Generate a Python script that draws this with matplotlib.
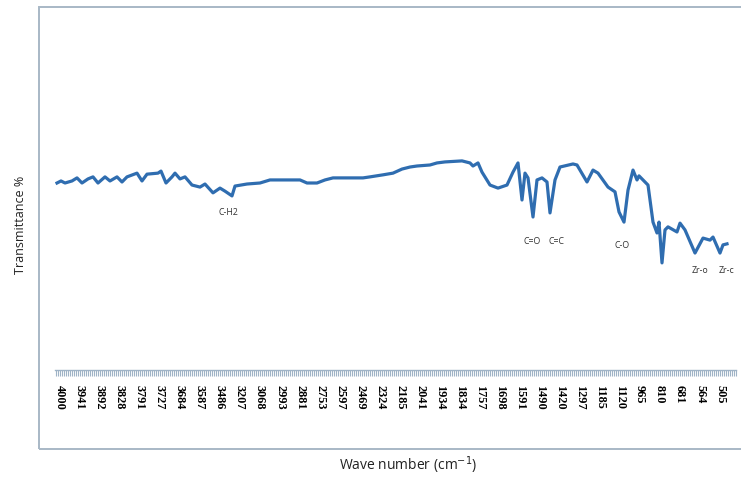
from __future__ import annotations

import matplotlib

matplotlib.use("Agg")

import matplotlib.pyplot as plt
from matplotlib.patches import Rectangle
from matplotlib.ticker import MultipleLocator


# wave number labels shown on the category axis, one per label slot
WAVE_LABELS = [
    "4000", "3941", "3892", "3828", "3791", "3727", "3684", "3587", "3486",
    "3207", "3068", "2993", "2881", "2753", "2597", "2469", "2324", "2185",
    "2041", "1934", "1834", "1757", "1698", "1591", "1490", "1420", "1297",
    "1185", "1120", "965", "810", "681", "564", "505",
]

# spectrum, x given in label slots along the category axis
SPEC_X = [
    -0.15, 0.05, 0.25, 0.6, 0.85, 1.1, 1.4, 1.65, 1.9, 2.25, 2.5, 2.85, 3.1,
    3.35, 3.85, 4.1, 4.35, 4.9, 5.05, 5.3, 5.6, 5.75, 6.0, 6.25, 6.6, 7.0,
    7.25, 7.65, 8.0, 8.25, 8.6, 8.75, 9.35, 10.0, 10.5, 12.0, 12.35, 12.85,
    13.25, 13.65, 15.15, 15.5, 16.15, 16.65, 17.1, 17.5, 17.85, 18.5, 18.85,
    19.25, 20.1, 20.5, 20.65, 20.9, 21.1, 21.5, 21.9, 22.35, 22.65, 22.9,
    23.1, 23.25, 23.4, 23.65, 23.85, 24.1, 24.35, 24.5, 24.75, 25.0, 25.65,
    25.85, 26.35, 26.65, 26.9, 27.4, 27.75, 27.95, 28.2, 28.4, 28.65, 28.85,
    28.95, 29.15, 29.4, 29.65, 29.85, 29.95, 30.1, 30.25, 30.4, 30.85, 31.0,
    31.25, 31.75, 32.15, 32.5, 32.65, 33.0, 33.15, 33.35,
]
TRANSMITTANCE = [
    55.0, 55.6, 55.0, 55.6, 56.5, 55.0, 56.2, 56.8, 55.0, 56.8, 55.6, 56.8,
    55.3, 56.8, 57.9, 55.6, 57.6, 57.9, 58.5, 55.0, 56.8, 57.9, 56.2, 56.8,
    54.4, 53.8, 54.7, 52.1, 53.5, 52.6, 51.2, 54.1, 54.7, 55.0, 55.9, 55.9,
    55.0, 55.0, 55.9, 56.5, 56.5, 56.8, 57.4, 57.9, 59.1, 59.7, 60.0, 60.3,
    60.9, 61.2, 61.5, 60.9, 60.0, 60.9, 58.2, 54.4, 53.5, 54.4, 58.2, 60.9,
    50.0, 57.9, 56.5, 45.0, 55.9, 56.5, 55.3, 46.2, 55.9, 59.7, 60.6, 60.3,
    55.3, 58.8, 57.9, 53.8, 52.4, 46.5, 43.5, 52.9, 58.8, 55.9, 57.1, 55.9,
    54.4, 43.5, 40.3, 43.5, 31.5, 41.2, 42.1, 40.6, 43.2, 41.2, 34.4, 38.8,
    38.2, 39.1, 34.4, 36.8, 37.1,
]

# band assignments written under the dips
BAND_TEXT = ["C-H2", "C=O", "C=C", "C-O", "Zr-o", "Zr-c"]
BAND_X = [8.4, 23.6, 24.8, 28.1, 32.0, 33.3]
BAND_Y = [46.2, 37.9, 37.9, 36.5, 29.4, 29.4]

LINE_COLOR = "#2f6db0"
AXIS_COLOR = "#9fb3c6"


def main() -> int:
    fig = plt.figure(figsize=(7.41, 4.78), dpi=100)

    # chart-area border, open on the right like the source
    fig.patches.append(
        Rectangle((39 / 741, 1 - 449 / 478), 1.0, (449 - 7) / 478,
                  transform=fig.transFigure, fill=False,
                  edgecolor="#a8b8c6", linewidth=1.4)
    )

    ax = fig.add_axes((55 / 741, 1 - 370 / 478, (736 - 55) / 741, 340 / 478))
    ax.plot(SPEC_X, TRANSMITTANCE, color=LINE_COLOR, linewidth=2.3,
            solid_joinstyle="round")

    for text, x, y in zip(BAND_TEXT, BAND_X, BAND_Y):
        ax.text(x, y, text, ha="center", va="center", fontsize=6.3,
                color="#333333", family="Open Sans")

    ax.set_xlim(-0.25, 33.8)
    ax.set_ylim(0, 100)
    ax.set_xticks(range(len(WAVE_LABELS)))
    ax.set_xticklabels(WAVE_LABELS, rotation=-90, fontsize=8.8,
                       family="Liberation Serif", fontweight="bold")
    ax.xaxis.set_minor_locator(MultipleLocator(0.1))
    ax.tick_params(axis="x", which="both", direction="out", length=4,
                   width=0.8, color=AXIS_COLOR, pad=7)
    ax.set_yticks([])
    for side in ("left", "right", "top"):
        ax.spines[side].set_visible(False)
    ax.spines["bottom"].set_color(AXIS_COLOR)
    ax.spines["bottom"].set_linewidth(1.0)

    fig.text(21 / 741, 1 - 225 / 478, "Transmittance %", rotation=90,
             ha="center", va="center", fontsize=9, family="Open Sans",
             color="#222222")
    fig.text(408 / 741, 1 - 465 / 478, r"Wave number (cm$^{-1}$)",
             ha="center", va="center", fontsize=10, family="Open Sans",
             color="#222222")

    fig.savefig("out.png", dpi=100)
    plt.close(fig)
    return 0


if __name__ == "__main__":
    raise SystemExit(main())
